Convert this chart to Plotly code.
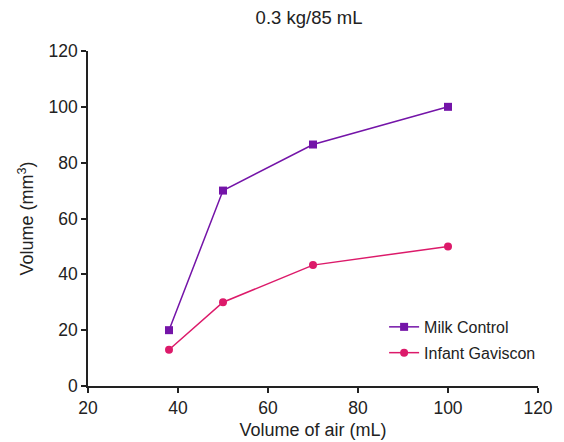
import plotly.graph_objects as go

x_air = [38, 50, 70, 100]
milk_control = [20, 70, 86.5, 100]
infant_gaviscon = [13, 30, 43.3, 50]

purple = "#7414a8"
pink = "#dc1a6a"

fig = go.Figure()
fig.add_trace(go.Scatter(x=x_air, y=milk_control, mode="lines+markers", name="Milk Control",
                         legendgroup="a",
                         line=dict(color=purple, width=1.5),
                         marker=dict(symbol="square", size=8, color=purple)))
fig.add_trace(go.Scatter(x=x_air, y=infant_gaviscon, mode="lines+markers", name="Infant Gaviscon",
                         legendgroup="b",
                         line=dict(color=pink, width=1.5),
                         marker=dict(symbol="circle", size=8, color=pink)))

axis_common = dict(showgrid=False, zeroline=False, showline=True, linecolor="#222", linewidth=1.5,
                   ticks="outside", ticklen=5, tickcolor="#222", tickwidth=1.5,
                   tickfont=dict(size=17.5, color="#222"), automargin=False)
fig.update_layout(
    width=564, height=442,
    margin=dict(l=88, r=26, t=51, b=56),
    paper_bgcolor="white", plot_bgcolor="white",
    font=dict(family="Liberation Sans, Arial, sans-serif", color="#222"),
    title=dict(text="0.3 kg/85 mL", xref="container", x=0.548, xanchor="center",
               y=0.96, yanchor="middle", font=dict(size=18.5)),
    xaxis=dict(range=[20, 120], tickvals=[20, 40, 60, 80, 100, 120],
               title=dict(text="Volume of air (mL)", font=dict(size=18), standoff=7), **axis_common),
    yaxis=dict(range=[0, 120], tickvals=[0, 20, 40, 60, 80, 100, 120],
               title=dict(text="Volume (mm<sup>3</sup>)", font=dict(size=18), standoff=10), **axis_common),
    legend=dict(x=0.658, y=0.227, xanchor="left", yanchor="top", font=dict(size=16),
                bgcolor="rgba(0,0,0,0)", tracegroupgap=2, itemwidth=30, traceorder="grouped"),
)
fig.write_html("out.html", config={"displayModeBar": False},
               post_script="document.body.style.margin='0';document.body.style.overflow='hidden';")
